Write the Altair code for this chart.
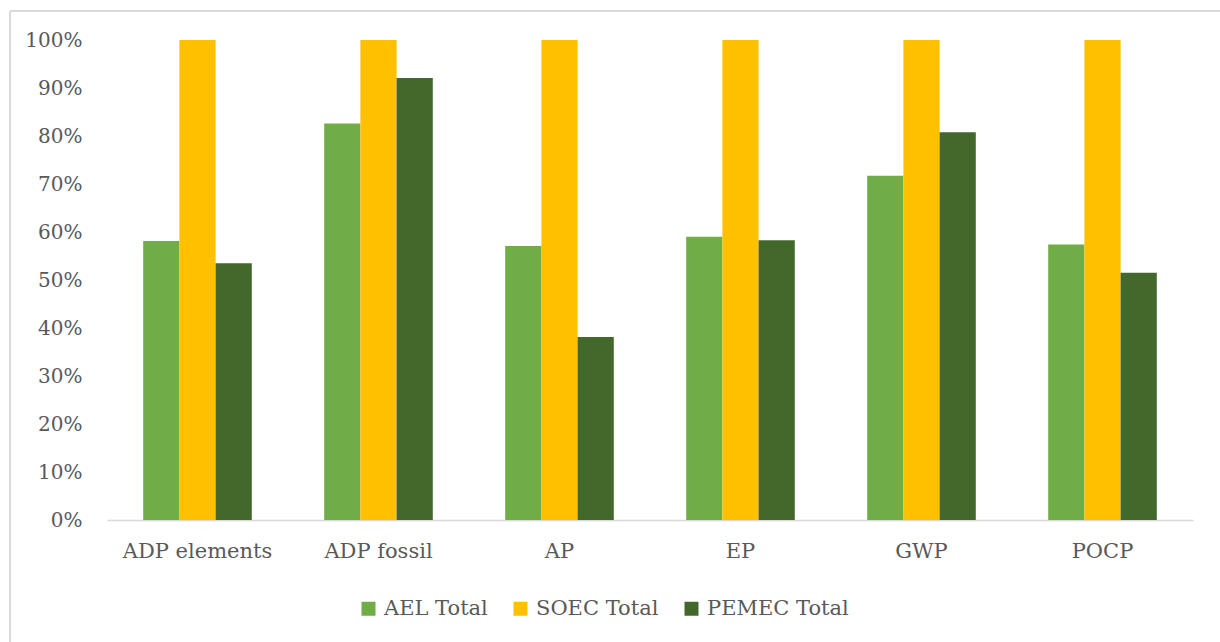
import altair as alt
import pandas as pd

# Impact categories and the relative results of each electrolyser technology
categories = ["ADP elements", "ADP fossil", "AP", "EP", "GWP", "POCP"]
series = ["AEL Total", "SOEC Total", "PEMEC Total"]
ael_total = [0.581, 0.826, 0.571, 0.590, 0.717, 0.574]
soec_total = [1.0, 1.0, 1.0, 1.0, 1.0, 1.0]
pemec_total = [0.535, 0.921, 0.381, 0.583, 0.808, 0.515]
colors = ["#70AD47", "#FFC000", "#43682B"]
y_ticks = [i / 10 for i in range(11)]

rows = []
for name, values in zip(series, [ael_total, soec_total, pemec_total]):
    for cat, v in zip(categories, values):
        rows.append({"category": cat, "series": name, "value": v})
df = pd.DataFrame(rows)

FONT = "DejaVu Serif"
TEXT = "#595959"
BORDER = "#D9D9D9"

bars = alt.Chart(df).mark_bar().encode(
    x=alt.X(
        "category:N",
        sort=categories,
        scale=alt.Scale(paddingInner=0, paddingOuter=0),
        axis=alt.Axis(
            title=None,
            labelAngle=0,
            ticks=False,
            labelPadding=20,
            labelFontSize=21,
            domainColor=BORDER,
            domainWidth=1.5,
        ),
    ),
    xOffset=alt.XOffset(
        "series:N",
        sort=series,
        scale=alt.Scale(paddingInner=0, paddingOuter=1),
    ),
    y=alt.Y(
        "value:Q",
        scale=alt.Scale(domain=[0, 1]),
        axis=alt.Axis(
            title=None,
            values=y_ticks,
            format=".0%",
            grid=False,
            domain=False,
            ticks=False,
            labelPadding=25,
            labelFontSize=20,
        ),
    ),
    color=alt.Color(
        "series:N",
        sort=series,
        scale=alt.Scale(domain=series, range=colors),
        legend=alt.Legend(
            title=None,
            orient="none",
            legendX=251,
            legendY=558,
            direction="horizontal",
            symbolType="square",
            symbolSize=196,
            symbolStrokeWidth=0,
            labelOffset=5,
            columnPadding=22,
        ),
    ),
)

# Thin frame around the whole figure (top and left edges)
frame = pd.DataFrame({"k": [0]})
top_edge = alt.Chart(frame).mark_rule(color=BORDER, strokeWidth=2).encode(
    x=alt.value(-97), x2=alt.value(1200), y=alt.value(-29)
)
left_edge = alt.Chart(frame).mark_rule(color=BORDER, strokeWidth=2).encode(
    x=alt.value(-97), y=alt.value(-29), y2=alt.value(640)
)

chart = (
    alt.layer(bars, top_edge, left_edge)
    .properties(
        width=1086,
        height=480,
        autosize=alt.AutoSizeParams(type="none"),
        padding={"left": 107, "top": 40, "right": 27, "bottom": 122},
        background="white",
    )
    .configure(font=FONT)
    .configure_view(stroke=None)
    .configure_axis(
        labelFont=FONT,
        labelColor=TEXT,
    )
    .configure_legend(
        labelFont=FONT,
        labelFontSize=21,
        labelColor=TEXT,
    )
)

chart.save("out.html", embed_options={"renderer": "svg", "actions": False})
